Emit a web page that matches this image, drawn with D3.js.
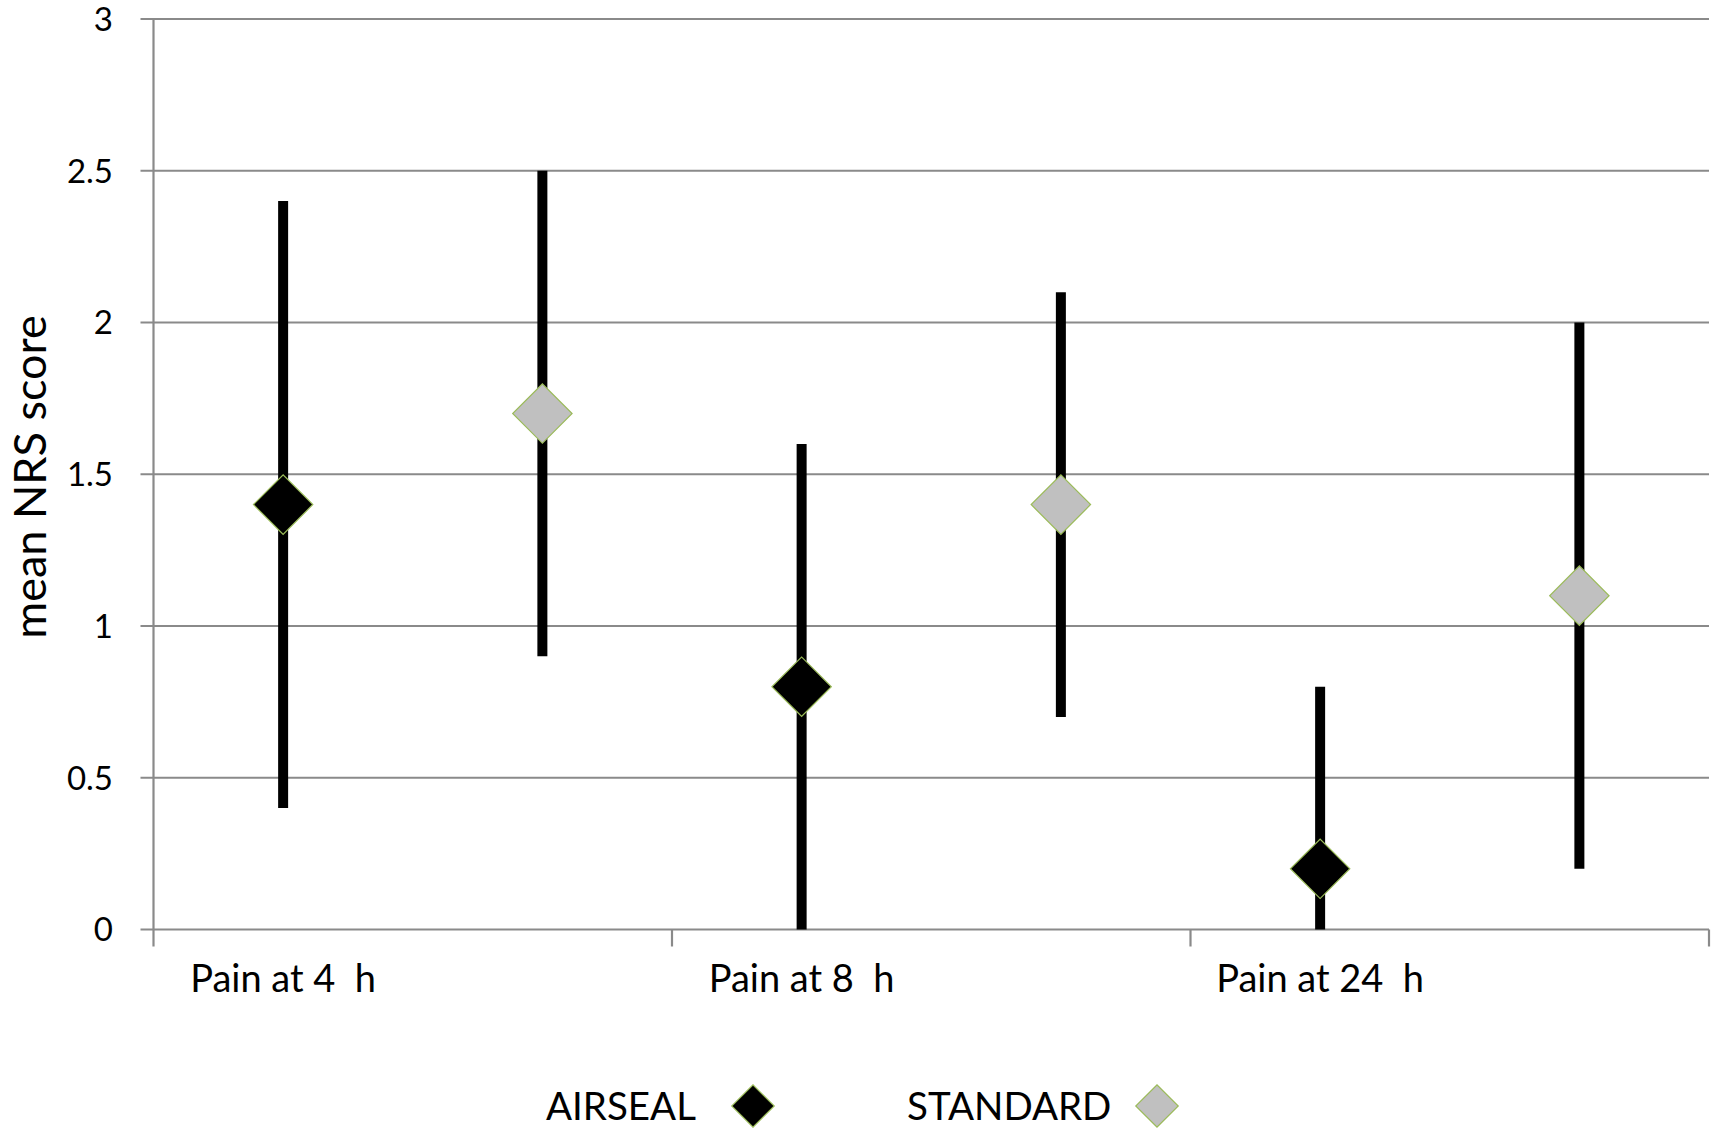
<!DOCTYPE html>
<html><head><meta charset="utf-8">
<script src="https://cdn.jsdelivr.net/npm/d3@7"></script>
<style>body{margin:0;background:#fff}svg{display:block}text{font-family:Lato,"Open Sans",sans-serif;fill:#000}</style>
</head><body><svg id="c" width="1722" height="1137"></svg>
<script>
const categories = ["Pain at 4 h", "Pain at 8 h", "Pain at 24 h"];
const seriesNames = ["AIRSEAL", "STANDARD"];
const airsealMean = [1.4, 0.8, 0.2];
const airsealLow  = [0.4, 0.0, 0.0];
const airsealHigh = [2.4, 1.6, 0.8];
const standardMean = [1.7, 1.4, 1.1];
const standardLow  = [0.9, 0.7, 0.2];
const standardHigh = [2.5, 2.1, 2.0];
const yTicks = [0, 0.5, 1, 1.5, 2, 2.5, 3];
const yTickLabels = ["0", "0.5", "1", "1.5", "2", "2.5", "3"];
const colors = {AIRSEAL: "#000000", STANDARD: "#c0c0c0"};

const svg = d3.select("#c");
const L = 153.5, R = 1709, T = 19, B = 929.5;
const y = d3.scaleLinear().domain([0, 3]).range([B, T]);
const x0 = d3.scaleBand().domain(categories).range([L, R]);
const x1 = d3.scaleBand().domain(seriesNames).range([0, x0.bandwidth()]);

const grid = "#8a8a8a";
// gridlines
svg.append("g").selectAll("line").data(yTicks).join("line")
  .attr("x1", L - 13).attr("x2", R).attr("y1", d => y(d)).attr("y2", d => y(d))
  .attr("stroke", grid).attr("stroke-width", 2.2);
// y axis line
svg.append("line").attr("x1", L).attr("x2", L).attr("y1", T).attr("y2", B + 17)
  .attr("stroke", grid).attr("stroke-width", 2.2);
// x category ticks
const bounds = categories.map(c => x0(c)).slice(1).concat([R]);
svg.append("g").selectAll("line").data(bounds).join("line")
  .attr("x1", d => d).attr("x2", d => d).attr("y1", B).attr("y2", B + 17)
  .attr("stroke", grid).attr("stroke-width", 2.2);
// y tick labels
svg.append("g").selectAll("text").data(yTicks).join("text")
  .attr("x", 113).attr("y", d => y(d)).attr("dy", "0.36em").attr("text-anchor", "end")
  .style("font-size", "33px").text((d, i) => yTickLabels[i]);
// x labels centered over first series slot
svg.append("g").selectAll("text").data(categories).join("text")
  .attr("x", c => x0(c) + x1("AIRSEAL") + x1.bandwidth() / 2).attr("y", 992)
  .attr("text-anchor", "middle").style("font-size", "38px").text(c => c.replace(" h", "\u00a0 h"));
// axis title
svg.append("text").attr("transform", "translate(46,477) rotate(-90)")
  .attr("text-anchor", "middle").style("font-size", "45px").text("mean NRS score");

const series = [
  {name: "AIRSEAL", mean: airsealMean, low: airsealLow, high: airsealHigh},
  {name: "STANDARD", mean: standardMean, low: standardLow, high: standardHigh}
];
const diamond = d3.symbol().type(d3.symbolSquare);
series.forEach(s => {
  const g = svg.append("g");
  const cx = i => x0(categories[i]) + x1(s.name) + x1.bandwidth() / 2;
  g.selectAll("line").data(s.mean).join("line")
    .attr("x1", (d, i) => cx(i)).attr("x2", (d, i) => cx(i))
    .attr("y1", (d, i) => y(s.low[i])).attr("y2", (d, i) => y(s.high[i]))
    .attr("stroke", "#000").attr("stroke-width", 10);
  g.selectAll("path").data(s.mean).join("path")
    .attr("d", diamond.size(42 * 42))
    .attr("transform", (d, i) => `translate(${cx(i)},${y(d)}) rotate(45)`)
    .attr("fill", colors[s.name]).attr("stroke", "#9bbb59").attr("stroke-width", 1.2);
});

// legend
const leg = [{name: "AIRSEAL", tx: 546, mx: 753}, {name: "STANDARD", tx: 907, mx: 1157}];
leg.forEach(l => {
  svg.append("text").attr("x", l.tx).attr("y", 1120).style("font-size", "38.5px").text(l.name);
  svg.append("path").attr("d", d3.symbol().type(d3.symbolSquare).size(30 * 30)())
    .attr("transform", `translate(${l.mx},1106) rotate(45)`)
    .attr("fill", colors[l.name]).attr("stroke", "#9bbb59").attr("stroke-width", 1.2);
});
</script></body></html>
